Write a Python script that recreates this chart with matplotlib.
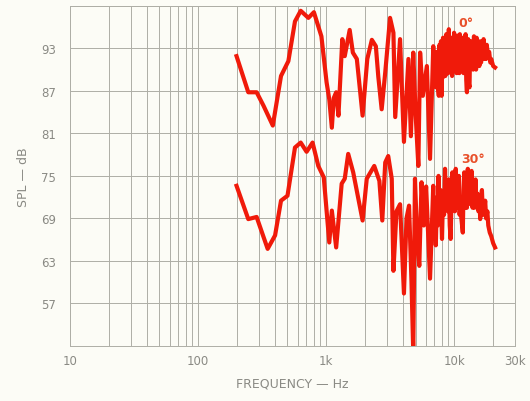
import numpy as np
import matplotlib.pyplot as plt
from matplotlib.ticker import FixedLocator, LogLocator, NullFormatter

# 0 degree response (Hz, dB)
f_0 = [200, 247, 287, 325, 384, 445, 508, 572, 634, 728, 804, 920, 1010, 1060,
       1110, 1150, 1200, 1250, 1340, 1400, 1530, 1620, 1740, 1930, 2100, 2280,
       2450, 2560, 2720, 2900, 3162, 3360, 3470, 3786, 3900, 4060, 4400, 4600,
       4800, 5000, 5260, 5430, 5700, 6130, 6490,
       6880, 7000, 7100, 7200, 7350, 7450, 7600, 7700, 7800, 7900, 8000, 8100,
       8200, 8300, 8450, 8550, 8700, 8800, 8900, 9000, 9100, 9200, 9300, 9400,
       9500, 9650, 9800, 9900, 10000, 10150, 10300, 10450, 10600, 10750, 10900,
       11000, 11100, 11250, 11400, 11550, 11700, 11850, 12000, 12150, 12300,
       12450, 12600, 12750, 12900, 13050, 13200, 13350, 13500, 13700, 13900,
       14100, 14300, 14500, 14700, 14850, 15000, 15250, 15500, 15750, 16000,
       16250, 16500, 16750, 17000, 17250, 17500, 17800, 18000, 18400, 18800,
       19200, 19500, 20200, 20900]
spl_0 = [91.9, 86.8, 86.8, 84.9, 82.1, 89.1, 91.2, 96.8, 98.3, 97.3, 98.1, 94.7,
         88.2, 85.8, 81.8, 86.0, 86.8, 83.5, 94.3, 91.9, 95.6, 92.4, 91.5, 83.5,
         91.5, 94.2, 93.3, 89.0, 84.4, 89.6, 97.3, 95.2, 83.3, 94.3, 88.0, 79.8,
         91.5, 80.6, 92.4, 84.0, 76.4, 92.4, 86.3, 90.5, 77.4,
         93.3, 89.0, 92.0, 87.5, 92.5, 88.0, 86.3, 93.5, 89.0, 94.0, 86.3, 92.0,
         94.5, 89.0, 93.0, 89.1, 95.0, 90.0, 93.5, 89.5, 95.7, 91.0, 94.0, 90.0,
         94.5, 89.1, 93.5, 90.0, 95.2, 90.5, 94.5, 89.5, 94.8, 90.0, 93.5,
         89.5, 95.0, 90.5, 94.0, 90.0, 94.5, 89.5, 93.5, 90.0, 95.0,
         88.5, 86.8, 92.5, 94.3, 88.0, 87.5, 93.0, 94.0, 90.5, 93.5,
         90.0, 94.7, 91.0, 93.5, 90.0, 94.5, 91.0, 93.8, 90.5, 94.0,
         91.0, 93.5, 91.5, 94.3, 91.5, 93.0, 91.5, 93.5, 92.0, 92.5,
         91.0, 91.5, 90.5, 90.3]

# 30 degree response (Hz, dB)
f_30 = [200, 247, 287, 350, 400, 445, 500, 572, 634, 705, 785, 870, 960, 1060,
        1110, 1200, 1325, 1400, 1490, 1630, 1930, 2080, 2380, 2610, 2750, 2900,
        3060, 3260, 3360, 3550, 3786, 4060, 4250, 4450, 4650, 4800, 4950, 5150,
        5350, 5570, 5800, 6050, 6490,
        6880, 7000, 7100, 7200, 7350, 7450, 7560, 7700, 7850, 8050, 8200, 8350,
        8500, 8650, 8800, 8950, 9100, 9250, 9400, 9550, 9700, 9850, 10000,
        10150, 10300, 10450, 10600, 10750, 10900, 11050, 11200, 11400, 11700,
        11850, 12000, 12200, 12400, 12600, 12800, 13000, 13200, 13450, 13700,
        13950, 14200, 14450, 14700, 14950, 15200, 15500, 15800, 16000, 16250,
        16500, 16800, 17200, 17500, 17800, 18200, 18500, 19000, 19500, 20200,
        20900]
spl_30 = [73.6, 68.9, 69.2, 64.7, 66.6, 71.5, 72.2, 79.0, 79.7, 78.4, 79.7, 76.4,
          74.8, 65.6, 70.1, 64.9, 73.9, 74.6, 78.1, 75.5, 68.7, 74.6, 76.4, 74.3,
          68.7, 76.9, 77.8, 74.6, 61.6, 70.0, 71.0, 58.4, 69.0, 70.8, 60.0, 50.0,
          74.6, 66.0, 62.3, 74.1, 68.0, 73.5, 60.5,
          73.6, 67.0, 70.5, 65.2, 72.0, 68.0, 75.0, 69.0, 73.0, 66.1, 72.5, 69.5,
          76.0, 71.0, 74.0, 70.0, 74.5, 68.0, 66.1, 72.0, 75.5, 70.5, 74.0,
          70.0, 76.0, 71.0, 74.5, 70.5, 75.0, 69.5, 72.0, 69.0, 67.0,
          73.0, 75.5, 70.5, 74.0, 70.5, 76.0, 71.5, 74.0, 71.0, 75.7,
          70.5, 73.5, 70.5, 74.5, 71.0, 72.5, 70.0, 71.5, 68.9, 72.0,
          73.0, 69.5, 70.0, 71.5, 69.0, 70.0, 68.0, 67.0, 66.5, 65.5,
          64.9]

x_ticks = [10, 100, 1000, 10000, 30000]
x_labels = ['10', '100', '1k', '10k', '30k']
y_ticks = [57, 63, 69, 75, 81, 87, 93]

bg = '#fcfcf6'
grey = '#8a8a84'
red = '#f01a0a'

fig = plt.figure(figsize=(5.3, 4.02), dpi=100, facecolor=bg)
ax = fig.add_axes([0.132, 0.137, 0.840, 0.846], facecolor=bg)

ax.plot(f_0, spl_0, color=red, lw=3.0, solid_joinstyle='round')
ax.plot(f_30, spl_30, color=red, lw=3.0, solid_joinstyle='round')

ax.set_xscale('log')
ax.set_xlim(10, 30000)
ax.set_ylim(51, 99)

ax.xaxis.set_major_locator(FixedLocator(x_ticks))
ax.set_xticklabels(x_labels)
ax.xaxis.set_minor_locator(LogLocator(base=10, subs=np.arange(2, 10)))
ax.xaxis.set_minor_formatter(NullFormatter())
ax.set_yticks(y_ticks)
ax.set_yticks(np.arange(51, 100, 6), minor=True)

ax.grid(which='both', color='#aeaea6', lw=0.7)
ax.set_axisbelow(True)
ax.tick_params(which='both', length=0, colors=grey, labelsize=8.5)
ax.tick_params(axis='y', pad=10)
ax.tick_params(axis='x', pad=6)
for s in ax.spines.values():
    s.set_color('#aeaea6')
    s.set_linewidth(0.7)

ax.set_xlabel('FREQUENCY — Hz', color=grey, fontsize=9, labelpad=7)
ax.set_ylabel('SPL — dB', color=grey, fontsize=9, labelpad=8)

ax.text(10900, 96.7, '0°', color='#e8502a', fontsize=9, fontweight='bold', va='center')
ax.text(11300, 77.4, '30°', color='#e8502a', fontsize=9, fontweight='bold', va='center')

fig.savefig('out.png', dpi=100, facecolor=bg)
